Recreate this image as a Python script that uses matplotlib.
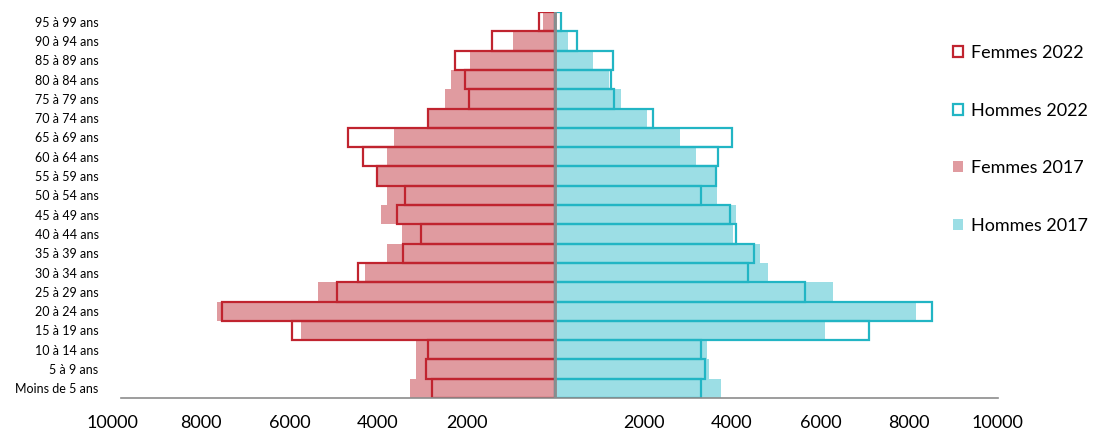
import matplotlib
matplotlib.use("Agg")
import matplotlib.pyplot as plt
import numpy as np

plt.rcParams['font.family'] = ['Lato', 'DejaVu Sans']

# Age groups, youngest first (bottom of the pyramid)
ages = ["Moins de 5 ans", "5 à 9 ans", "10 à 14 ans", "15 à 19 ans", "20 à 24 ans",
        "25 à 29 ans", "30 à 34 ans", "35 à 39 ans", "40 à 44 ans", "45 à 49 ans",
        "50 à 54 ans", "55 à 59 ans", "60 à 64 ans", "65 à 69 ans", "70 à 74 ans",
        "75 à 79 ans", "80 à 84 ans", "85 à 89 ans", "90 à 94 ans", "95 à 99 ans"]

femmes_2022 = [2780, 2910, 2870, 5940, 7530, 4930, 4460, 3440, 3030, 3560,
               3400, 4020, 4330, 4670, 2870, 1950, 2040, 2250, 1420, 370]
femmes_2017 = [3280, 3140, 3140, 5740, 7630, 5350, 4290, 3800, 3450, 3940,
               3800, 3990, 3800, 3640, 2900, 2490, 2350, 1920, 950, 270]
hommes_2022 = [3300, 3380, 3300, 7100, 8530, 5640, 4360, 4490, 4080, 3950,
               3300, 3640, 3690, 4010, 2220, 1340, 1260, 1300, 500, 130]
hommes_2017 = [3750, 3480, 3440, 6100, 8150, 6280, 4810, 4630, 4030, 4100,
               3660, 3620, 3180, 2820, 2080, 1490, 1230, 870, 290, 50]

tick_values = [-10000, -8000, -6000, -4000, -2000, 2000, 4000, 6000, 8000, 10000]

RED = "#C0242F"
PINK = "#E09BA0"
CYAN = "#22B5C4"
LIGHT_CYAN = "#9CDEE5"

W, H = 1093, 433
fig = plt.figure(figsize=(W / 100, H / 100), dpi=100)
ax = fig.add_axes([112.5 / W, (H - 398) / H, 885 / W, (398 - 12) / H])

y = np.arange(len(ages))
f17 = ax.barh(y, -np.array(femmes_2017), height=1.0, color=PINK, linewidth=0,
              label="Femmes 2017", zorder=1)
h17 = ax.barh(y, hommes_2017, height=1.0, color=LIGHT_CYAN, linewidth=0,
              label="Hommes 2017", zorder=1)
f22 = ax.barh(y, -np.array(femmes_2022), height=1.0, fill=False, edgecolor=RED,
              linewidth=1.6, label="Femmes 2022", zorder=2)
h22 = ax.barh(y, hommes_2022, height=1.0, fill=False, edgecolor=CYAN,
              linewidth=1.6, label="Hommes 2022", zorder=2)

ax.axvline(0, color="#8C8C8C", linewidth=2, zorder=3)

ax.set_xlim(-10000, 10000)
ax.set_ylim(-0.5, len(ages) - 0.5)

ax.set_yticks(y)
ax.set_yticklabels(ages, fontsize=9)
ax.set_xticks(tick_values)
ax.set_xticklabels([str(abs(v)) for v in tick_values], fontsize=13)
ax.tick_params(axis="y", length=0, pad=10)
ax.tick_params(axis="x", length=0, pad=12)

for side in ("top", "right", "left"):
    ax.spines[side].set_visible(False)
ax.spines["bottom"].set_color("#8C8C8C")
ax.spines["bottom"].set_linewidth(1.2)
ax.spines["bottom"].set_bounds(-9800, 10000)

fig.legend(handles=[f22, h22, f17, h17],
           labels=["Femmes 2022", "Hommes 2022", "Femmes 2017", "Hommes 2017"],
           loc="upper left", bbox_to_anchor=(953 / W, 1 - 45 / H),
           frameon=False, fontsize=13, borderpad=0, borderaxespad=0,
           handlelength=0.55, handleheight=0.55, handletextpad=0.45,
           labelspacing=2.3)

fig.savefig("out.png", dpi=100)
